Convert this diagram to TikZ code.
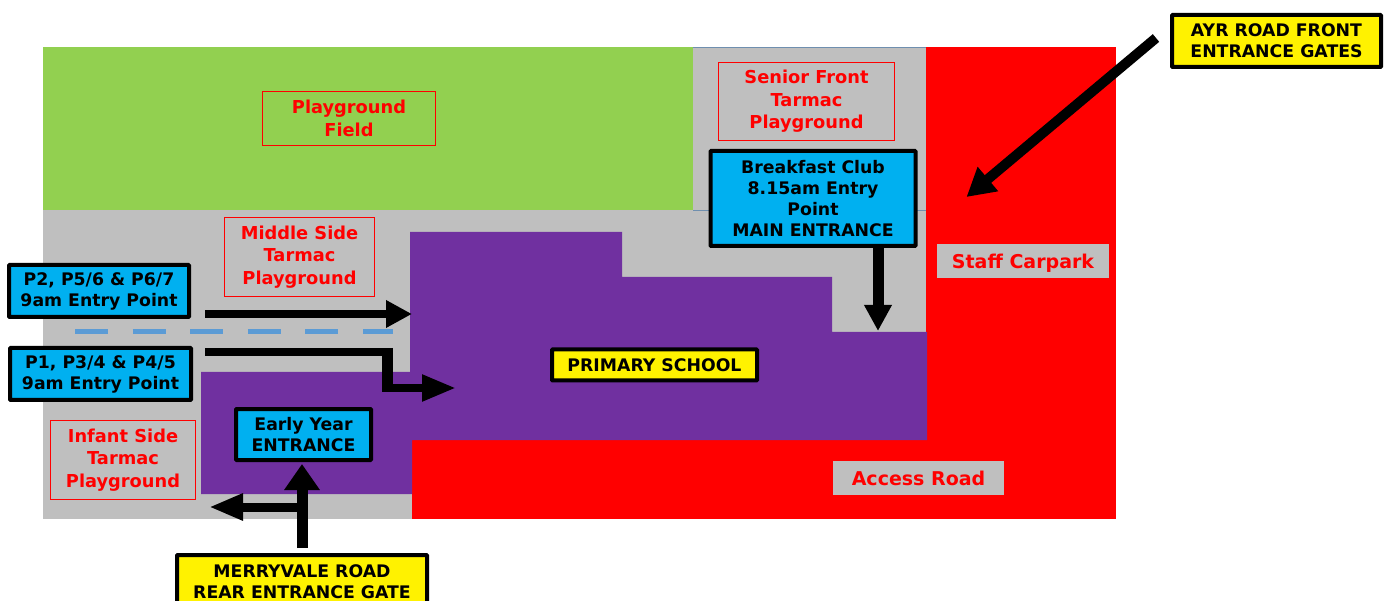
\documentclass[tikz,border=0pt]{standalone}
\usepackage{fontspec}
\setmainfont{DejaVu Sans}
\usetikzlibrary{arrows.meta}
\definecolor{grn}{HTML}{92D050}
\definecolor{gry}{HTML}{BFBFBF}
\definecolor{pur}{HTML}{7030A0}
\definecolor{cyn}{HTML}{00B0F0}
\definecolor{dsh}{HTML}{5B9BD5}
\definecolor{edge}{HTML}{6F8FAF}
\newcommand{\pbox}[6]{\node[#1,minimum width=#4 pt,minimum height=#5 pt] (#2) at (#3) {#6};}
\tikzset{
 x=1pt,y=-1pt,
 base/.style={inner sep=0pt,outer sep=0pt,align=center,font=\bfseries\fontsize{17.3}{21}\selectfont},
 cyanbox/.style={base,draw=black,line width=4pt,fill=cyn,rounded corners=0.8pt},
 yellowbox/.style={base,draw=black,line width=4pt,fill=yellow,rounded corners=0.8pt},
 redbox/.style={base,draw=red,line width=1.5pt,text=red,font=\bfseries\fontsize{17.8}{22.5}\selectfont},
 graybox/.style={base,fill=gry,text=red,font=\bfseries\fontsize{19}{22.5}\selectfont,text depth=0pt},
 thin arrow/.style={line width=8pt,-{Triangle[length=26pt,width=26pt]}},
 long thin arrow/.style={line width=8pt,-{Triangle[length=34pt,width=25pt]}},
 thick arrow/.style={line width=11pt,-{Triangle[length=26pt,width=26pt]}},
}
\begin{document}
\begin{tikzpicture}
\useasboundingbox (0,0) rectangle (1384,601);
% areas
\fill[gry] (43,47) rectangle (926,519);
\fill[grn] (43,47) rectangle (693,210);
\draw[edge,line width=0.8pt] (693,47) -- (926,47);
\draw[edge,line width=0.8pt] (693,210) -- (926,210);
\fill[red] (926,47) rectangle (1116,519);
\fill[red] (412,440) rectangle (926,519);
\fill[pur] (410,232) -- (622,232) -- (622,277) -- (832,277) -- (832,332) -- (927,332) -- (927,440) -- (412,440) -- (412,494) -- (201,494) -- (201,372) -- (410,372) -- cycle;
% labels
\pbox{redbox}{field}{349,118.5}{173}{54}{Playground\\Field}
\pbox{redbox}{senior}{806.5,101.5}{176}{78}{Senior Front\\Tarmac\\Playground}
\pbox{redbox}{middle}{299.5,257}{150}{79}{Middle Side\\Tarmac\\Playground}
\pbox{redbox}{infant}{123,460}{145}{79}{Infant Side\\Tarmac\\Playground}
\pbox{graybox}{staff}{1023,261}{172}{34}{Staff Carpark}
\pbox{graybox}{access}{918.5,478}{171}{34}{Access Road}
\pbox{cyanbox}{p2}{99,291}{180}{52}{P2, P5/6 \& P6/7\\9am Entry Point}
\pbox{cyanbox}{p1}{100.5,374}{181}{52}{P1, P3/4 \& P4/5\\9am Entry Point}
\pbox{cyanbox}{early}{303.5,434.5}{135}{51}{Early Year\\ENTRANCE}
\pbox{cyanbox}{club}{813,198.5}{205}{95}{Breakfast Club\\8.15am Entry\\Point\\MAIN ENTRANCE}
\pbox{yellowbox}{primary}{654.5,365}{205}{31}{PRIMARY SCHOOL}
\pbox{yellowbox}{ayr}{1276.5,41}{209}{52}{AYR ROAD FRONT\\ENTRANCE GATES}
\pbox{yellowbox}{merry}{302,582}{250}{54}{MERRYVALE ROAD\\REAR ENTRANCE GATE}
% dashed divider
\coordinate (dashL) at (75,331.5);
\coordinate (dashR) at (393,331.5);
\draw[dsh,line width=5pt,dash pattern=on 33pt off 24.6pt] (dashL) -- (dashR);
% connector ends
\coordinate (a1s) at (205,314);
\coordinate (a1e) at (412,314);
\coordinate (a2s) at (205,352);
\coordinate (a2m) at (393,352);
\coordinate (a2v) at (387.5,348);
\coordinate (a2b) at (387.5,392);
\coordinate (a2n) at (382,388);
\coordinate (a2e) at (456,388);
\coordinate (schoolDoor) at (878,331);
\coordinate (ayrS) at (1156,38);
\coordinate (ayrE) at (966.5,197);
\coordinate (merryS) at (302,548);
\coordinate (branchS) at (297,507);
\coordinate (branchE) at (209,507);
\draw[thin arrow] (a1s) -- (a1e);
\draw[line width=8pt] (a2s) -- (a2m);
\draw[line width=11pt] (a2v) -- (a2b);
\draw[long thin arrow] (a2n) -- (a2e);
\draw[thick arrow] (club.south -| schoolDoor) -- (schoolDoor);
\draw[line width=10pt,-{Triangle[length=28pt,width=30pt]}] (ayrS) -- (ayrE);
\draw[line width=11pt,-{Triangle[length=26pt,width=34pt]},shorten >=4pt] (merryS) -- (early.south -| merryS);
\draw[long thin arrow,line width=9pt] (branchS) -- (branchE);
\end{tikzpicture}
\end{document}
